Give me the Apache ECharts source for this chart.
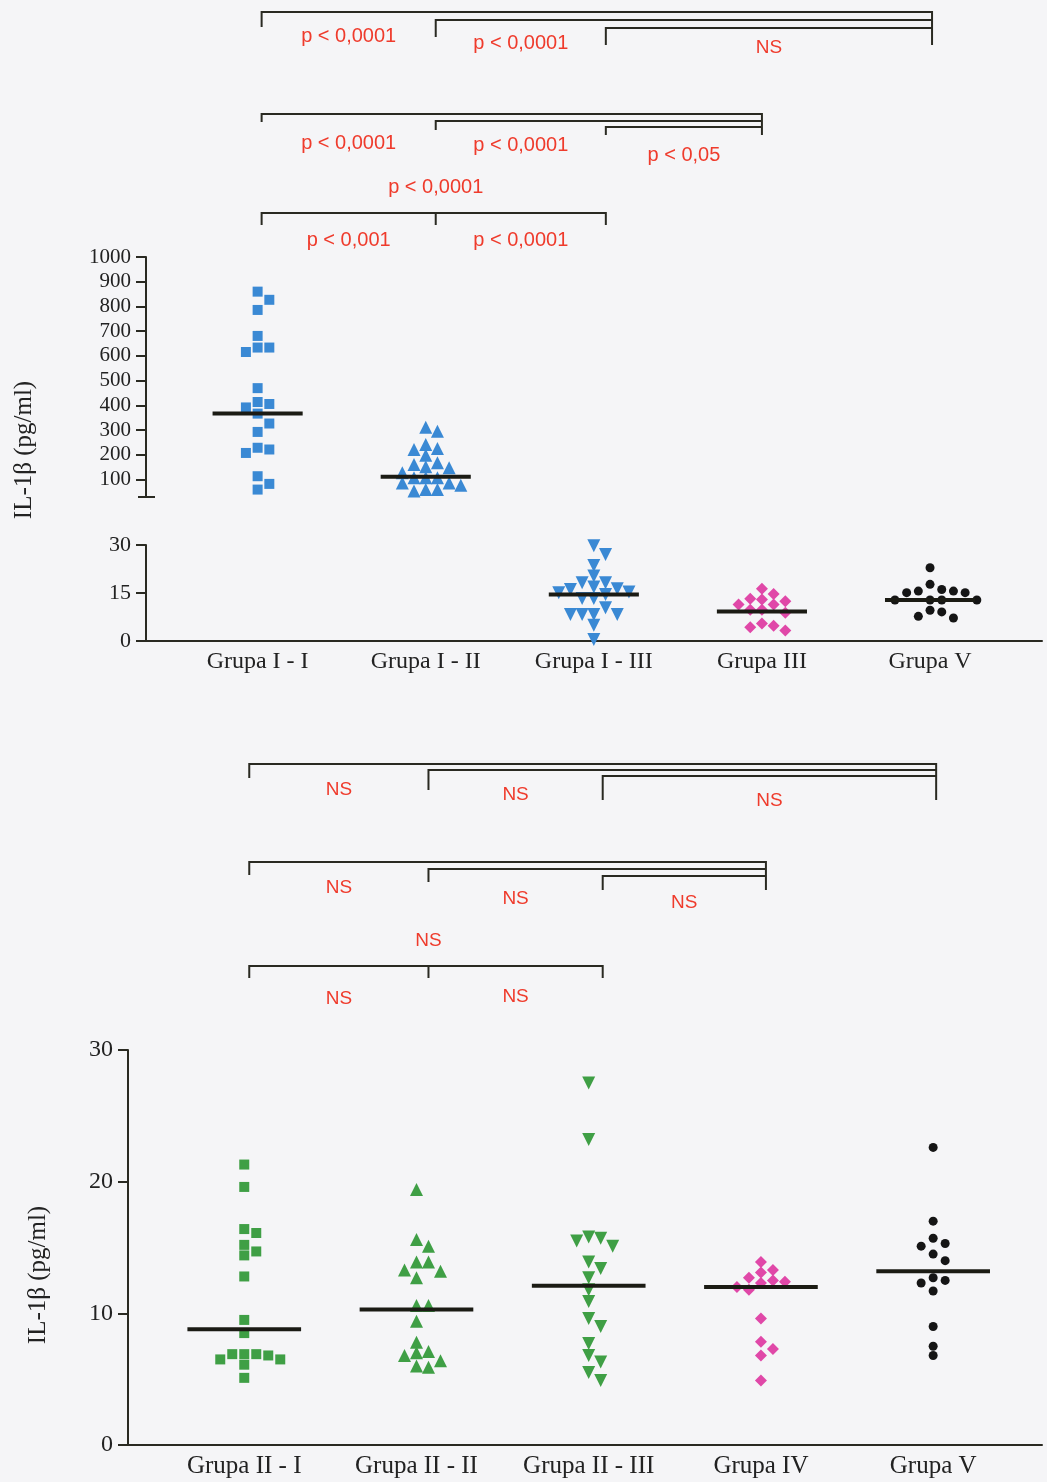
<!DOCTYPE html>
<html><head><meta charset="utf-8">
<script src="https://cdn.jsdelivr.net/npm/echarts@6/dist/echarts.min.js"></script>
<style>html,body{margin:0;padding:0;background:#f5f5f7;}#c{width:1047px;height:1482px;}</style>
</head><body><div id="c"></div>
<script>
// ---------------- DATA ----------------
const topCategories = ['Grupa I - I', 'Grupa I - II', 'Grupa I - III', 'Grupa III', 'Grupa V'];
const bottomCategories = ['Grupa II - I', 'Grupa II - II', 'Grupa II - III', 'Grupa IV', 'Grupa V'];
const upperTicks = [100, 200, 300, 400, 500, 600, 700, 800, 900, 1000];

const grupaI_I = [860, 827, 786, 681, 634, 634, 616, 470, 414, 406, 392, 367, 327, 293, 229, 222, 208, 114, 83, 60];
const grupaI_II = [312, 296, 242, 226, 222, 199, 168, 161, 152, 148, 128, 108, 108, 108, 87, 87, 77, 60, 60, 54];
const grupaI_III = [29.8, 27.0, 23.6, 20.3, 18.2, 18.2, 16.9, 16.3, 16.1, 15.3, 15.1, 14.5, 13.3, 13.3, 10.4, 8.3, 8.3, 8.3, 8.3, 4.9, 0.5];
const grupaIII = [16.3, 14.7, 13.2, 13.0, 12.4, 11.4, 11.4, 9.8, 9.8, 8.8, 5.5, 4.8, 4.3, 3.3];
const grupaV_top = [22.9, 17.7, 16.1, 15.6, 15.6, 15.1, 15.1, 12.8, 12.8, 12.8, 12.8, 9.6, 9.1, 7.7, 7.2];
const topMedians = [367, 112, 14.5, 9.2, 12.8];

const grupaII_I = [21.3, 19.6, 16.4, 16.1, 15.2, 14.7, 14.4, 12.8, 9.5, 8.5, 6.9, 6.9, 6.9, 6.8, 6.5, 6.5, 6.1, 5.1];
const grupaII_II = [19.4, 15.6, 15.1, 13.9, 13.9, 13.3, 13.2, 12.7, 10.6, 10.6, 9.4, 7.8, 7.1, 7.0, 6.8, 6.4, 6.0, 5.9];
const grupaII_III = [27.5, 23.2, 15.8, 15.7, 15.5, 15.1, 13.9, 13.4, 12.7, 11.8, 10.9, 9.6, 9.0, 7.7, 6.8, 6.3, 5.5, 4.9];
const grupaIV = [13.9, 13.3, 13.1, 12.7, 12.5, 12.4, 12.3, 12.0, 11.8, 9.6, 7.85, 7.3, 6.8, 4.9];
const grupaV_bottom = [22.6, 17.0, 15.7, 15.3, 15.1, 14.5, 14.0, 12.7, 12.5, 12.3, 11.7, 9.0, 7.5, 6.8];
const bottomMedians = [8.8, 10.3, 12.1, 12.0, 13.2];

// comparison labels
const topLabelsVsV = ['p < 0,0001', 'p < 0,0001', 'NS'];
const topLabelsVsIII = ['p < 0,0001', 'p < 0,0001', 'p < 0,05'];
const topLabelsFirst3 = ['p < 0,0001', 'p < 0,001', 'p < 0,0001'];
const bottomLabelsVsV = ['NS', 'NS', 'NS'];
const bottomLabelsVsIV = ['NS', 'NS', 'NS'];
const bottomLabelsFirst3 = ['NS', 'NS', 'NS'];
const yTitle = 'IL-1β (pg/ml)';

// ---------------- LAYOUT ----------------
const AX = '#2a2a22';
const RED = '#ef3b2c';
const BLUE = '#3a89d4', GREEN = '#3f9f45', PINK = '#e048a8', BLACK = '#151515';
const SERIF = 'Liberation Serif', SANS = 'Liberation Sans';
const G0 = {left: 146, top: 257, width: 896, height: 240};
const G1 = {left: 146, top: 545, width: 896, height: 96};
const G2 = {left: 128, top: 1050, width: 914, height: 395};
const TOP_MIN = -0.664, TOP_MAX = 4.666, BOT_MIN = -0.675, BOT_MAX = 4.632;
const UP_MIN = 30, UP_MAX = 1000;
// small horizontal nudges (px) of bracket anchors relative to the group centres
const TOP_NUDGE = [4, 10, 12, 0, 2];
const BOT_NUDGE = [5, 12, 14, 5, 3];

function swarm(values, idx, pxPerVal, pxPerIdx, step, gap) {
  const placed = [], out = [];
  const order = [0, 1, -1, 2, -2, 3, -3, 4, -4, 5, -5, 6, -6];
  values.forEach(v => {
    const y = v * pxPerVal;
    for (const s of order) {
      if (!placed.some(p => p.s === s && Math.abs(p.y - y) < gap)) {
        placed.push({s, y});
        out.push([idx + s * step / pxPerIdx, v]);
        break;
      }
    }
  });
  return out;
}
const pxIdxTop = G0.width / (TOP_MAX - TOP_MIN);
const pxIdxBot = G2.width / (BOT_MAX - BOT_MIN);
const pxUp = G0.height / (UP_MAX - UP_MIN), pxLow = G1.height / 30, pxBot = G2.height / 30;
const STEP = 11.7;

function scatter(name, data, xi, yi, symbol, size, color, rotate) {
  return {name, type: 'scatter', xAxisIndex: xi, yAxisIndex: yi, data, symbol, symbolSize: size,
    symbolRotate: rotate || 0, itemStyle: {color, opacity: 1}, z: 3, silent: true};
}
function medianSeries(data, xi, yi, hw) {
  return {type: 'custom', xAxisIndex: xi, yAxisIndex: yi, data, z: 5, silent: true,
    renderItem(params, api) {
      const i = api.value(0), m = api.value(1);
      const a = api.coord([i - hw, m]), b = api.coord([i + hw, m]);
      return {type: 'line', shape: {x1: a[0], y1: a[1], x2: b[0], y2: b[1]},
        style: {stroke: '#1b1b14', lineWidth: 4}};
    }};
}
function catLabel(cats, size) {
  return {customValues: [0, 1, 2, 3, 4], formatter: v => cats[Math.round(v)] || '',
    fontFamily: SERIF, fontSize: size, color: '#222', margin: 9};
}
function yAx(gi, min, max, extra, fs, margin) {
  return Object.assign({gridIndex: gi, type: 'value', min, max,
    axisLine: {show: true, onZero: false, lineStyle: {color: AX, width: 2}},
    axisTick: {show: true, length: 10, lineStyle: {color: AX, width: 2}},
    axisLabel: {fontFamily: SERIF, fontSize: fs, color: '#222', margin, formatter: v => String(v)},
    splitLine: {show: false}}, extra);
}

const chart = echarts.init(document.getElementById('c'), null, {renderer: 'canvas'});
const option = {
  backgroundColor: '#f5f5f7',
  animation: false,
  grid: [G0, G1, G2],
  xAxis: [
    {gridIndex: 0, type: 'value', min: TOP_MIN, max: TOP_MAX, show: false},
    {gridIndex: 1, type: 'value', min: TOP_MIN, max: TOP_MAX,
      axisLine: {show: true, onZero: false, lineStyle: {color: AX, width: 2}},
      axisTick: {show: false}, splitLine: {show: false}, axisLabel: catLabel(topCategories, 24)},
    {gridIndex: 2, type: 'value', min: BOT_MIN, max: BOT_MAX,
      axisLine: {show: true, onZero: false, lineStyle: {color: AX, width: 2}},
      axisTick: {show: false}, splitLine: {show: false}, axisLabel: catLabel(bottomCategories, 25)}
  ],
  yAxis: [
    yAx(0, UP_MIN, UP_MAX, {}, 21, 15),
    yAx(1, 0, 30, {interval: 15}, 22, 15),
    yAx(2, 0, 30, {interval: 10}, 24, 15)
  ],
  series: [
    scatter('Grupa I - I', swarm(grupaI_I, 0, pxUp, pxIdxTop, STEP, 10), 0, 0, 'rect', 10, BLUE),
    scatter('Grupa I - II', swarm(grupaI_II, 1, pxUp, pxIdxTop, STEP, 10), 0, 0, 'triangle', 13, BLUE),
    scatter('Grupa I - III', swarm(grupaI_III, 2, pxLow, pxIdxTop, STEP, 10), 1, 1, 'triangle', 13, BLUE, 180),
    scatter('Grupa III', swarm(grupaIII, 3, pxLow, pxIdxTop, STEP, 10), 1, 1, 'diamond', 12, PINK),
    scatter('Grupa V', swarm(grupaV_top, 4, pxLow, pxIdxTop, STEP, 9), 1, 1, 'circle', 9, BLACK),
    medianSeries(topMedians.slice(0, 2).map((m, i) => [i, m]), 0, 0, 0.268),
    medianSeries(topMedians.slice(2).map((m, i) => [i + 2, m]), 1, 1, 0.268),
    scatter('Grupa II - I', swarm(grupaII_I, 0, pxBot, pxIdxBot, 12, 10), 2, 2, 'rect', 10, GREEN),
    scatter('Grupa II - II', swarm(grupaII_II, 1, pxBot, pxIdxBot, 12, 10), 2, 2, 'triangle', 13, GREEN),
    scatter('Grupa II - III', swarm(grupaII_III, 2, pxBot, pxIdxBot, 12, 10), 2, 2, 'triangle', 13, GREEN, 180),
    scatter('Grupa IV', swarm(grupaIV, 3, pxBot, pxIdxBot, 12, 10), 2, 2, 'diamond', 12, PINK),
    scatter('Grupa V ', swarm(grupaV_bottom, 4, pxBot, pxIdxBot, 12, 9), 2, 2, 'circle', 9, BLACK),
    medianSeries(bottomMedians.map((m, i) => [i, m]), 2, 2, 0.33)
  ]
};
option.yAxis[0].axisTick.customValues = upperTicks;
option.yAxis[0].axisLabel.customValues = upperTicks;
chart.setOption(option);

// ---------------- ANNOTATIONS (brackets) ----------------
const g = [];
function ln(x1, y1, x2, y2) {
  g.push({type: 'line', shape: {x1, y1, x2, y2}, style: {stroke: AX, lineWidth: 2}, silent: true});
}
function txt(x, y, text) {
  g.push({type: 'text', x, y, silent: true, style: {text, fill: RED, font: (text === 'NS' ? '19px ' : '20px ') + SANS,
    align: 'center', verticalAlign: 'middle'}});
}
function xp(axis, i) {
  const nudge = axis === 1 ? TOP_NUDGE : BOT_NUDGE;
  return chart.convertToPixel({xAxisIndex: axis}, i) + nudge[i];
}
function nested(axis, starts, end, labels, lineY, dropY, textY) {
  const xe = xp(axis, end);
  starts.forEach((s, k) => {
    const xs = xp(axis, s);
    ln(xs, lineY[k], xe, lineY[k]);
    ln(xs, lineY[k] - 1, xs, dropY[k]);
    const nx = k + 1 < starts.length ? xp(axis, starts[k + 1]) : xe;
    txt((xs + nx) / 2, textY[k], labels[k]);
  });
  ln(xe, lineY[0] - 1, xe, dropY[dropY.length - 1]);
}
function triple(axis, labels, lineY, dropY, topY, botY) {
  const a = xp(axis, 0), b = xp(axis, 1), c = xp(axis, 2);
  ln(a, lineY, c, lineY);
  [a, b, c].forEach(x => ln(x, lineY - 1, x, dropY));
  txt(b, topY, labels[0]);
  txt((a + b) / 2, botY[0], labels[1]);
  txt((b + c) / 2, botY[1], labels[2]);
}
nested(1, [0, 1, 2], 4, topLabelsVsV, [12, 20, 28], [27, 37, 45], [36, 43, 48]);
nested(1, [0, 1, 2], 3, topLabelsVsIII, [114, 121, 127], [122, 130, 135], [143, 145, 155]);
triple(1, topLabelsFirst3, 213, 225, 187, [240, 240]);
nested(2, [0, 1, 2], 4, bottomLabelsVsV, [764, 770, 776], [778, 790, 800], [790, 795, 801]);
nested(2, [0, 1, 2], 3, bottomLabelsVsIV, [862, 869, 876], [875, 882, 890], [888, 899, 903]);
triple(2, bottomLabelsFirst3, 966, 978, 941, [999, 997]);

// broken-axis cap at bottom of upper segment
const capY = chart.convertToPixel({yAxisIndex: 0}, UP_MIN);
ln(G0.left - 8, capY, G0.left + 9, capY);

// y-axis titles
g.push({type: 'text', x: 24, y: 450, rotation: Math.PI / 2, silent: true,
  style: {text: yTitle, fill: '#222', font: '25px ' + SERIF, align: 'center', verticalAlign: 'middle'}});
g.push({type: 'text', x: 38, y: 1275, rotation: Math.PI / 2, silent: true,
  style: {text: yTitle, fill: '#222', font: '25px ' + SERIF, align: 'center', verticalAlign: 'middle'}});

chart.setOption({graphic: {elements: g}});
</script>
</body></html>
